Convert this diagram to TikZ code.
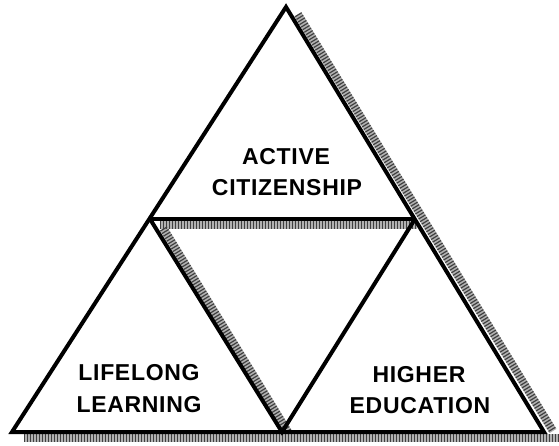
\documentclass[tikz,border=0pt]{standalone}
\usepackage{fontspec}
\newfontfamily\labfont[LetterSpace=3]{Liberation Sans}
\usetikzlibrary{calc}
\tikzset{
  edge/.style={line width=4pt, black, line join=miter, line cap=butt},
  shadowbase/.style={line width=8pt, black!30, line cap=butt},
  shadowtex/.style={line width=8pt, black!75, dash pattern=on 1.2pt off 1.8pt, line cap=butt},
  lab/.style={font=\labfont\bfseries\fontsize{23}{28}\selectfont, anchor=base, inner sep=0pt}
}
\begin{document}
\begin{tikzpicture}[x=1pt,y=-1pt]
\useasboundingbox (0,0) rectangle (559,446);
\fill[white] (0,0) rectangle (559,446);
% corner points
\coordinate (A) at (286,7);
\coordinate (L) at (12,432);
\coordinate (R) at (544,432);
\coordinate (M1) at (150,219);
\coordinate (M2) at (415,219);
\coordinate (B) at (282,432);
% shadow coordinates
\coordinate (sA) at ($(A)!0.025!(R)+(5.5,-3.3)$);
\coordinate (sR) at ($(R)+(9,-1)$);
\coordinate (sM1a) at ($(M1)!0.06!(B)+(5.5,-3.3)$);
\coordinate (sB) at ($(B)+(6,0)$);
\coordinate (sH1) at ($(M1)+(10,6)$);
\coordinate (sH2) at ($(M2)+(2,6)$);
\coordinate (sL1) at ($(L)+(12,6)$);
\coordinate (sL2) at ($(R)+(15,6)$);
% shadows
\foreach \s in {shadowbase,shadowtex}{
  \draw[\s] (sA) -- (sR);
  \draw[\s] (sM1a) -- (sB);
  \draw[\s] (sH1) -- (sH2);
  \draw[\s] (sL1) -- (sL2);
}
% triangles
\draw[edge] (A) -- (L) -- (R) -- cycle;
\draw[edge] (M1) -- (M2);
\draw[edge] (M1) -- (B) -- (M2);
% labels
\node[lab] (t1) at (286,165) {ACTIVE};
\node[lab] (t2) at (287,196) {CITIZENSHIP};
\node[lab] (t3) at (139,380) {LIFELONG};
\node[lab] (t4) at (139,412) {LEARNING};
\node[lab] (t5) at (419,382) {HIGHER};
\node[lab] (t6) at (420,413) {EDUCATION};
\end{tikzpicture}
\end{document}
